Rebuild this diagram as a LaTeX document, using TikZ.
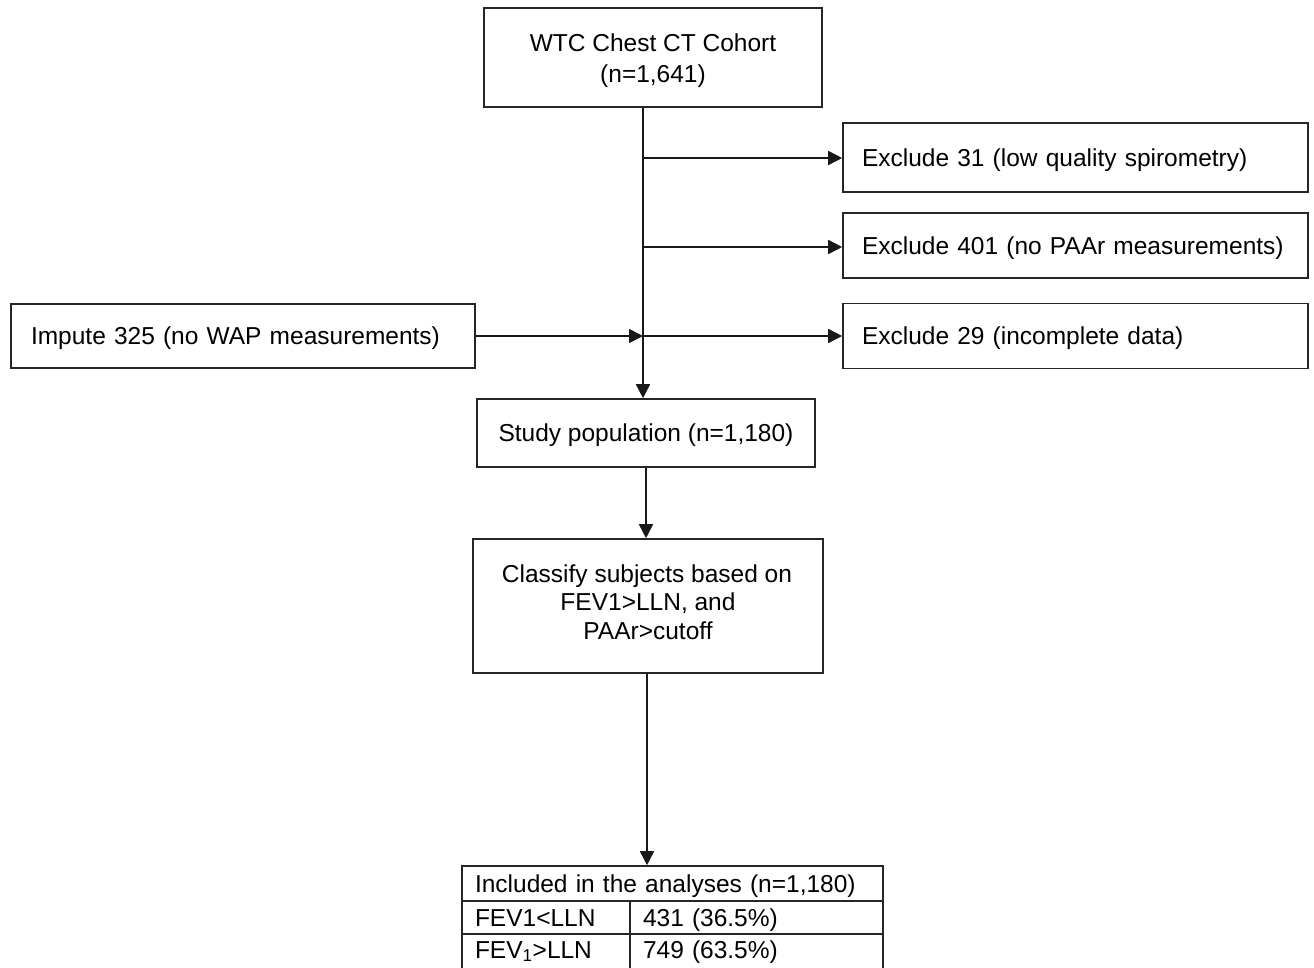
\documentclass[tikz,border=0pt]{standalone}
\usepackage{fontspec}
\setmainfont{Liberation Sans}
\usetikzlibrary{arrows.meta}
\begin{document}
\begin{tikzpicture}[x=1pt,y=-1pt,
  fnt/.style={font=\fontsize{24.5}{29}\selectfont},
  box/.style={draw=black!85, line width=1.6pt, inner sep=0pt, fnt, text height=17.5pt, text depth=0pt},
  txt/.style={inner sep=0pt, fnt, anchor=base},
  conn/.style={draw=black!90, line width=1.6pt},
  arr/.style={conn, -{Triangle[length=14pt,width=14pt]}}]
\useasboundingbox (0,0) rectangle (1314,967);
\clip (0,0) rectangle (1314,967);
% boxes
\node[box, minimum width=338, minimum height=99] (top) at (653,57.5) {};
\node[txt] (top1) at (653,51) {WTC Chest CT Cohort};
\node[txt] (top2) at (653,82) {(n=1,641)};
\node[box, minimum width=465, minimum height=69, text width=427, align=left] (ex1) at (1075.5,157.5) {Exclude 31 (low quality spirometry)};
\node[box, minimum width=465, minimum height=65, text width=427, align=left] (ex2) at (1075.5,245.5) {Exclude 401 (no PAAr measurements)};
\node[box, minimum width=465, minimum height=65, text width=427, align=left] (ex3) at (1075.5,336) {Exclude 29 (incomplete data)};
\node[box, minimum width=464, minimum height=64, text width=424, align=left] (imp) at (243,336) {Impute 325 (no WAP measurements)};
\node[box, minimum width=338, minimum height=68] (study) at (646,433) {Study population (n=1,180)};
\node[box, minimum width=350, minimum height=134] (cls) at (648,606) {};
\node[txt] (cls1) at (647,582) {Classify subjects based on};
\node[txt] (cls2) at (648,610.5) {FEV1>LLN, and};
\node[txt] (cls3) at (648,639) {PAAr>cutoff};
% table
\node[box, minimum width=421, minimum height=35, text width=395, align=left] (head) at (672.5,883.5) {Included in the analyses (n=1,180)};
\node[box, minimum width=168, minimum height=33, text width=142, align=left] (r1a) at (546,917.5) {FEV1<LLN};
\node[box, minimum width=253, minimum height=33, text width=227, align=left] (r1b) at (756.5,917.5) {431 (36.5\%)};
\node[box, minimum width=168, minimum height=36, text width=142, align=left, text depth=5pt] (r2a) at (546,952) {FEV\textsubscript{1}>LLN};
\node[box, minimum width=253, minimum height=36, text width=227, align=left, text depth=5pt] (r2b) at (756.5,952) {749 (63.5\%)};
% junctions on the main line
\coordinate (t) at ([xshift=-10]top.south);
\coordinate (b1) at (t |- 0,158);
\coordinate (b2) at (t |- 0,247);
\coordinate (b3) at (t |- 0,336);
% connectors
\draw[arr] (t) -- (t |- study.north);
\draw[arr] (b1) -- (b1 -| ex1.west);
\draw[arr] (b2) -- (b2 -| ex2.west);
\draw[arr] (b3) -- (b3 -| ex3.west);
\draw[arr] (imp.east) -- (imp.east -| b3);
\draw[arr] (study.south) -- (study.south |- cls.north);
\draw[arr] ([xshift=-1]cls.south) -- ([xshift=-1]cls.south |- head.north);
\end{tikzpicture}
\end{document}
